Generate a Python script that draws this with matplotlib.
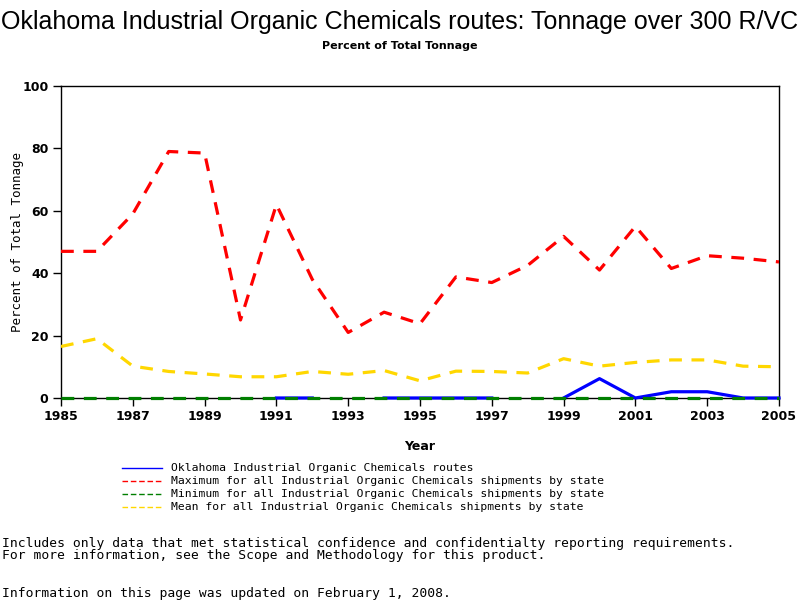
import matplotlib
matplotlib.use("Agg")
import matplotlib.pyplot as plt
import numpy as np

years = list(range(1985, 2006))

oklahoma = [np.nan, np.nan, np.nan, np.nan, np.nan, np.nan, 0, 0, np.nan, 0, 0,
            0, 0, np.nan, 0, 6.2, 0, 2, 2, 0, 0]
maximum = [47, 47, 59, 79, 78.5, 25, 62, 38, 21, 27.5, 23.8,
           38.8, 37, 42.5, 51.8, 41, 55, 41.5, 45.6, 44.8, 43.6]
minimum = [0] * 21
mean = [16.5, 19, 10.2, 8.5, 7.7, 6.8, 6.8, 8.5, 7.6, 8.8, 5.5,
        8.6, 8.5, 8, 12.6, 10.2, 11.4, 12.2, 12.2, 10.2, 10]

xticks = list(range(1985, 2006, 2))
yticks = [0, 20, 40, 60, 80, 100]

labels = [
    "Oklahoma Industrial Organic Chemicals routes",
    "Maximum for all Industrial Organic Chemicals shipments by state",
    "Minimum for all Industrial Organic Chemicals shipments by state",
    "Mean for all Industrial Organic Chemicals shipments by state",
]

mono = "DejaVu Sans Mono"

fig = plt.figure(figsize=(8, 6), dpi=100)
ax = fig.add_axes([0.07625, 0.3367, 0.8975, 0.52])

ax.plot(years, maximum, color="#ff0000", lw=2.3, dashes=(4, 3), zorder=3)
ax.plot(years, mean, color="#ffd700", lw=2.3, dashes=(4, 3), zorder=3)
ax.plot(years, oklahoma, color="#0000ff", lw=2.3, zorder=3, clip_on=False)
ax.plot(years, minimum, color="#007f00", lw=2.3, dashes=(4, 3), zorder=4,
        clip_on=False)

ax.set_xlim(1985, 2005)
ax.set_ylim(0, 100)
ax.set_xticks(xticks)
ax.set_yticks(yticks)
ax.tick_params(direction="out", length=6, width=1, labelsize=9, pad=3)
for lab in ax.get_xticklabels() + ax.get_yticklabels():
    lab.set_fontweight("bold")
for sp in ax.spines.values():
    sp.set_linewidth(1)

ax.set_xlabel("Year", fontsize=9, fontweight="bold", labelpad=12)
fig.text(18 / 800, 1 - 242 / 600, "Percent of Total Tonnage", rotation=90,
         ha="center", va="center", family=mono, fontsize=9)

fig.text(0.5, 0.963, "Oklahoma Industrial Organic Chemicals routes: Tonnage over 300 R/VC",
         ha="center", va="center", fontsize=18, family="Liberation Sans")
fig.text(0.5, 0.923, "Percent of Total Tonnage", ha="center", va="center",
         fontsize=8, fontweight="bold")

# legend drawn by hand below the axes
leg_colors = ["#0000ff", "#ff0000", "#007f00", "#ffd700"]
leg_dash = [None, (4, 2), (4, 2), (4, 2)]
for i, (lab, c, d) in enumerate(zip(labels, leg_colors, leg_dash)):
    y = 1 - (468 + 13 * i) / 600
    line = plt.Line2D([122 / 800, 162 / 800], [y, y], transform=fig.transFigure,
                      color=c, lw=1)
    if d:
        line.set_dashes(d)
    fig.add_artist(line)
    fig.text(171 / 800, y, lab, ha="left", va="center", family=mono, fontsize=8.2)

notes = [
    ("Includes only data that met statistical confidence and confidentialty reporting requirements.", 543),
    ("For more information, see the Scope and Methodology for this product.", 556),
    ("Information on this page was updated on February 1, 2008.", 594),
]
for txt, ypx in notes:
    fig.text(2 / 800, 1 - ypx / 600, txt, ha="left", va="center",
             family=mono, fontsize=9.4)

fig.savefig("out.png", dpi=100)
